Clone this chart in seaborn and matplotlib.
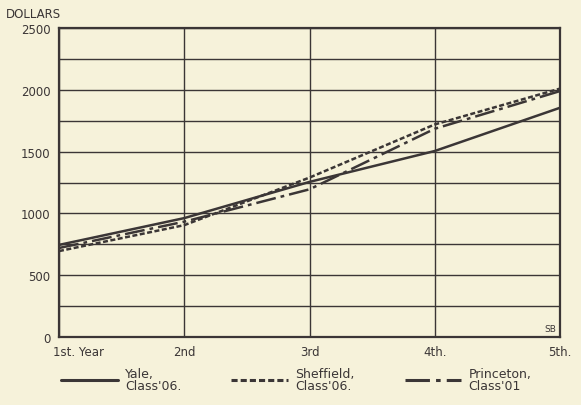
import matplotlib
matplotlib.use("Agg")
import matplotlib.pyplot as plt
import matplotlib.transforms as mtransforms
import seaborn as sns
import pandas as pd
from matplotlib.lines import Line2D

years = ["1st. Year", "2nd", "3rd", "4th.", "5th."]
yale = [745, 962, 1255, 1505, 1855]
sheffield = [695, 905, 1290, 1720, 2010]
princeton = [720, 933, 1195, 1685, 1990]
series_names = ["Yale, Class'06.", "Sheffield, Class'06.", "Princeton, Class'01"]
y_ticks = [0, 500, 1000, 1500, 2000, 2500]

bg = "#f6f2da"
ink = "#3b3636"

rows = []
for name, vals in zip(series_names, [yale, sheffield, princeton]):
    for i, v in enumerate(vals):
        rows.append({"year": i, "dollars": v, "series": name})
df = pd.DataFrame(rows)

sns.set_style("white")
plt.rcParams["font.family"] = ["DejaVu Sans"]

fig = plt.figure(figsize=(5.81, 4.06), dpi=100, facecolor=bg)
ax = fig.add_axes([0.1015, 0.1675, 0.8625, 0.761])
ax.set_facecolor(bg)

dashes = {series_names[0]: "", series_names[1]: (2, 1), series_names[2]: (8, 2, 1.5, 2)}
sns.lineplot(data=df, x="year", y="dollars", hue="series", style="series",
             palette=[ink] * 3, dashes=dashes, linewidth=1.8, legend=False, ax=ax)

ax.set_xlim(0, 4)
ax.set_ylim(0, 2500)
ax.set_yticks(range(0, 2501, 250))
ax.set_yticklabels([str(v) if v in y_ticks else "" for v in range(0, 2501, 250)])
ax.set_xticks(range(5))
ax.set_xticklabels(years)
ax.grid(True, color=ink, linewidth=1.0)
ax.set_axisbelow(True)
for s in ax.spines.values():
    s.set_color(ink)
    s.set_linewidth(1.6)
ax.tick_params(axis="both", length=0, colors=ink, labelsize=8.5, pad=6)
xlabs = ax.get_xticklabels()
xlabs[0].set_ha("left")
xlabs[0].set_transform(xlabs[0].get_transform() +
                       mtransforms.ScaledTranslation(-6 / 100, 0, fig.dpi_scale_trans))
ax.set_xlabel("")
ax.set_ylabel("")

fig.text(0.01, 0.965, "DOLLARS", fontsize=8.5, color=ink, ha="left", va="center")
ax.text(0.992, 0.012, "SB", transform=ax.transAxes, fontsize=6.5, color=ink,
        ha="right", va="bottom")

handles = [Line2D([0], [0], color=ink, lw=2.2, linestyle="-"),
           Line2D([0], [0], color=ink, lw=2.2, linestyle=(0, (2, 1))),
           Line2D([0], [0], color=ink, lw=2.2, linestyle=(0, (8, 2, 1.5, 2)))]
labels = ["Yale,\nClass'06.", "Sheffield,\nClass'06.", "Princeton,\nClass'01"]
leg = fig.legend(handles, labels, loc="center", bbox_to_anchor=(0.51, 0.063), ncol=3,
                 frameon=False, fontsize=9, handlelength=4.5, columnspacing=4.0,
                 handletextpad=0.6, labelspacing=0.1)
for t in leg.get_texts():
    t.set_color(ink)
    t.set_linespacing(0.85)

fig.savefig("out.png", dpi=100, facecolor=bg)
